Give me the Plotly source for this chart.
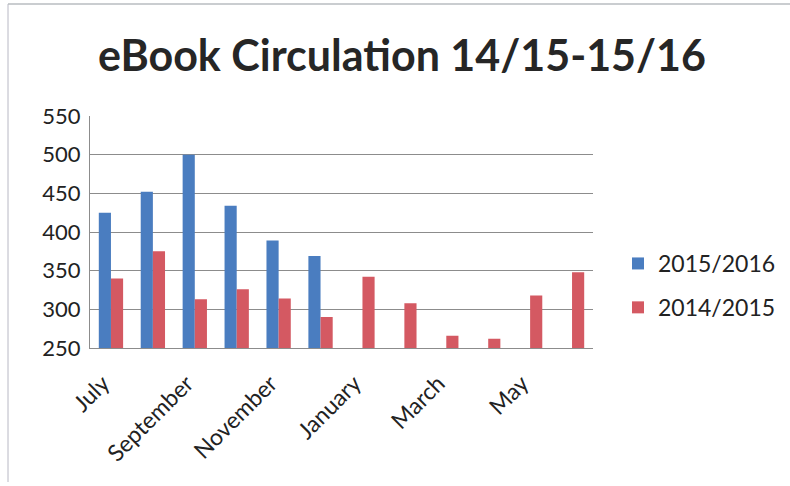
import plotly.graph_objects as go

months = ["July", "August", "September", "October", "November", "December",
          "January", "February", "March", "April", "May", "June"]
tick_labels = ["July", "September", "November", "January", "March", "May"]
s_2015_2016 = [425, 452, 500, 434, 389, 369, None, None, None, None, None, None]
s_2014_2015 = [340, 375, 313, 326, 314, 290, 342, 308, 266, 262, 318, 348]
y_ticks = [250, 300, 350, 400, 450, 500, 550]

BLUE = "#4a7dc0"
RED = "#d45962"
FONT = "Lato, Carlito, Calibri, sans-serif"

fig = go.Figure()
fig.add_trace(go.Bar(x=months, y=s_2015_2016, name="2015/2016",
                     marker=dict(color=BLUE, line=dict(width=0)),
                     legendgroup="a"))
fig.add_trace(go.Bar(x=months, y=s_2014_2015, name="2014/2015",
                     marker=dict(color=RED, line=dict(width=0)),
                     legendgroup="b"))

L, R, T, B = 90, 197, 116, 138
W, H = 790, 486
pw, ph = W - L - R, H - T - B

fig.update_layout(
    width=W, height=H,
    margin=dict(l=L, r=R, t=T, b=B, autoexpand=False),
    paper_bgcolor="white", plot_bgcolor="white",
    barmode="group", bargap=0.42, bargroupgap=0,
    font=dict(family=FONT, color="#222222"),
    title=dict(text="<b>eBook Circulation 14/15-15/16</b>",
               font=dict(size=43, family=FONT, color="#262626"),
               x=402 / W, xanchor="center", y=1 - 56 / H, yanchor="middle"),
    legend=dict(xref="container", yref="container",
                x=618 / W, y=1 - 242 / H, xanchor="left", yanchor="top",
                font=dict(size=23, family=FONT, color="#222222"),
                traceorder="grouped", tracegroupgap=11,
                bgcolor="rgba(0,0,0,0)"),
    showlegend=True,
)
fig.update_xaxes(
    type="category", categoryorder="array", categoryarray=months,
    tickmode="array", tickvals=tick_labels, ticktext=tick_labels,
    tickangle=-45, tickfont=dict(size=23, family=FONT, color="#222222"),
    showline=True, linecolor="#8c8c8c", linewidth=1, mirror=False,
    showgrid=False, ticks="outside", ticklen=12, tickcolor="rgba(0,0,0,0)",
    ticklabelshift=-8,
    automargin=False,
)
fig.update_yaxes(
    range=[250, 550], tickmode="array", tickvals=y_ticks,
    tickfont=dict(size=22, family=FONT, color="#222222"),
    showline=True, linecolor="#8c8c8c", linewidth=1,
    showgrid=True, gridcolor="#8c8c8c", gridwidth=1,
    ticks="outside", ticklen=4, tickcolor="rgba(0,0,0,0)", zeroline=False,
    automargin=False,
)

# chart frame (left and top edges)
fig.add_shape(type="line", xref="paper", yref="paper",
              x0=(8 - L) / pw, x1=(8 - L) / pw, y0=(ph + T - 482) / ph, y1=(ph + T - 4) / ph,
              line=dict(color="#b8b8c4", width=1))
fig.add_shape(type="line", xref="paper", yref="paper",
              x0=(8 - L) / pw, x1=(W - L) / pw, y0=(ph + T - 4) / ph, y1=(ph + T - 4) / ph,
              line=dict(color="#b8bcc0", width=1.5))

fig.write_html("out.html")
